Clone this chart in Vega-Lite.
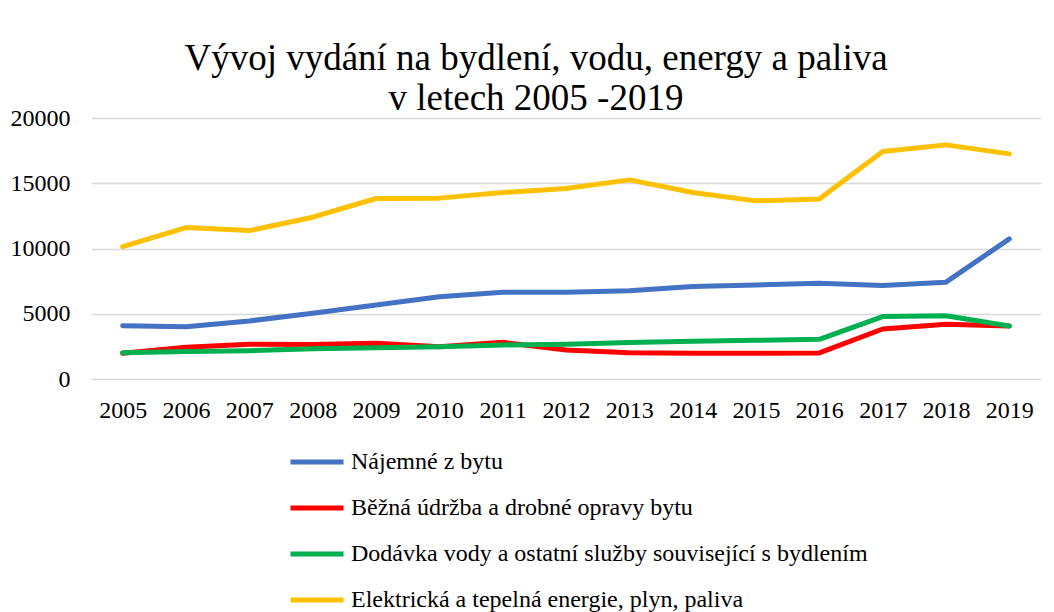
{
  "$schema": "https://vega.github.io/schema/vega-lite/v6.json",
  "width": 950,
  "height": 261,
  "padding": {"left": 10, "top": 40, "right": 5, "bottom": 5},
  "background": "white",
  "title": {
    "text": ["Vývoj vydání na bydlení, vodu, energy a paliva", "v letech 2005 -2019"],
    "font": "Liberation Serif",
    "fontSize": 37,
    "fontWeight": "normal",
    "color": "#000000",
    "anchor": "middle",
    "frame": "group",
    "dx": -30,
    "lineHeight": 40,
    "offset": -12
  },
  "data": {
    "values": [
      {"rok": "2005", "s": "Nájemné z bytu", "v": 4090},
      {"rok": "2006", "s": "Nájemné z bytu", "v": 4010},
      {"rok": "2007", "s": "Nájemné z bytu", "v": 4450},
      {"rok": "2008", "s": "Nájemné z bytu", "v": 5040},
      {"rok": "2009", "s": "Nájemné z bytu", "v": 5670},
      {"rok": "2010", "s": "Nájemné z bytu", "v": 6310},
      {"rok": "2011", "s": "Nájemné z bytu", "v": 6650},
      {"rok": "2012", "s": "Nájemné z bytu", "v": 6650},
      {"rok": "2013", "s": "Nájemné z bytu", "v": 6770},
      {"rok": "2014", "s": "Nájemné z bytu", "v": 7080},
      {"rok": "2015", "s": "Nájemné z bytu", "v": 7210},
      {"rok": "2016", "s": "Nájemné z bytu", "v": 7340},
      {"rok": "2017", "s": "Nájemné z bytu", "v": 7160},
      {"rok": "2018", "s": "Nájemné z bytu", "v": 7420},
      {"rok": "2019", "s": "Nájemné z bytu", "v": 10740},
      {"rok": "2005", "s": "Běžná údržba a drobné opravy bytu", "v": 1970},
      {"rok": "2006", "s": "Běžná údržba a drobné opravy bytu", "v": 2430},
      {"rok": "2007", "s": "Běžná údržba a drobné opravy bytu", "v": 2660},
      {"rok": "2008", "s": "Běžná údržba a drobné opravy bytu", "v": 2650},
      {"rok": "2009", "s": "Běžná údržba a drobné opravy bytu", "v": 2740},
      {"rok": "2010", "s": "Běžná údržba a drobné opravy bytu", "v": 2480},
      {"rok": "2011", "s": "Běžná údržba a drobné opravy bytu", "v": 2810},
      {"rok": "2012", "s": "Běžná údržba a drobné opravy bytu", "v": 2220},
      {"rok": "2013", "s": "Běžná údržba a drobné opravy bytu", "v": 2020},
      {"rok": "2014", "s": "Běžná údržba a drobné opravy bytu", "v": 1970},
      {"rok": "2015", "s": "Běžná údržba a drobné opravy bytu", "v": 1970},
      {"rok": "2016", "s": "Běžná údržba a drobné opravy bytu", "v": 2000},
      {"rok": "2017", "s": "Běžná údržba a drobné opravy bytu", "v": 3830},
      {"rok": "2018", "s": "Běžná údržba a drobné opravy bytu", "v": 4190},
      {"rok": "2019", "s": "Běžná údržba a drobné opravy bytu", "v": 4060},
      {"rok": "2005", "s": "Dodávka vody a ostatní služby související s bydlením", "v": 2020},
      {"rok": "2006", "s": "Dodávka vody a ostatní služby související s bydlením", "v": 2100},
      {"rok": "2007", "s": "Dodávka vody a ostatní služby související s bydlením", "v": 2170},
      {"rok": "2008", "s": "Dodávka vody a ostatní služby související s bydlením", "v": 2320},
      {"rok": "2009", "s": "Dodávka vody a ostatní služby související s bydlením", "v": 2400},
      {"rok": "2010", "s": "Dodávka vody a ostatní služby související s bydlením", "v": 2480},
      {"rok": "2011", "s": "Dodávka vody a ostatní služby související s bydlením", "v": 2610},
      {"rok": "2012", "s": "Dodávka vody a ostatní služby související s bydlením", "v": 2660},
      {"rok": "2013", "s": "Dodávka vody a ostatní služby související s bydlením", "v": 2790},
      {"rok": "2014", "s": "Dodávka vody a ostatní služby související s bydlením", "v": 2890},
      {"rok": "2015", "s": "Dodávka vody a ostatní služby související s bydlením", "v": 2970},
      {"rok": "2016", "s": "Dodávka vody a ostatní služby související s bydlením", "v": 3040},
      {"rok": "2017", "s": "Dodávka vody a ostatní služby související s bydlením", "v": 4780},
      {"rok": "2018", "s": "Dodávka vody a ostatní služby související s bydlením", "v": 4850},
      {"rok": "2019", "s": "Dodávka vody a ostatní služby související s bydlením", "v": 4060},
      {"rok": "2005", "s": "Elektrická a tepelná energie, plyn, paliva", "v": 10150},
      {"rok": "2006", "s": "Elektrická a tepelná energie, plyn, paliva", "v": 11600},
      {"rok": "2007", "s": "Elektrická a tepelná energie, plyn, paliva", "v": 11370},
      {"rok": "2008", "s": "Elektrická a tepelná energie, plyn, paliva", "v": 12400},
      {"rok": "2009", "s": "Elektrická a tepelná energie, plyn, paliva", "v": 13830},
      {"rok": "2010", "s": "Elektrická a tepelná energie, plyn, paliva", "v": 13860},
      {"rok": "2011", "s": "Elektrická a tepelná energie, plyn, paliva", "v": 14290},
      {"rok": "2012", "s": "Elektrická a tepelná energie, plyn, paliva", "v": 14600},
      {"rok": "2013", "s": "Elektrická a tepelná energie, plyn, paliva", "v": 15260},
      {"rok": "2014", "s": "Elektrická a tepelná energie, plyn, paliva", "v": 14290},
      {"rok": "2015", "s": "Elektrická a tepelná energie, plyn, paliva", "v": 13650},
      {"rok": "2016", "s": "Elektrická a tepelná energie, plyn, paliva", "v": 13800},
      {"rok": "2017", "s": "Elektrická a tepelná energie, plyn, paliva", "v": 17430},
      {"rok": "2018", "s": "Elektrická a tepelná energie, plyn, paliva", "v": 17940},
      {"rok": "2019", "s": "Elektrická a tepelná energie, plyn, paliva", "v": 17250}
    ]
  },
  "mark": {"type": "line", "strokeWidth": 5, "strokeCap": "round", "strokeJoin": "round"},
  "encoding": {
    "x": {
      "field": "rok",
      "type": "ordinal",
      "scale": {"type": "point", "padding": 0.5},
      "axis": {
        "title": null,
        "labelAngle": 0,
        "labelFont": "Liberation Serif",
        "labelFontSize": 24,
        "labelColor": "#000000",
        "labelPadding": 19,
        "domain": false,
        "ticks": false,
        "grid": false
      }
    },
    "y": {
      "field": "v",
      "type": "quantitative",
      "scale": {"domain": [0, 20000], "nice": false},
      "axis": {
        "title": null,
        "values": [0, 5000, 10000, 15000, 20000],
        "format": "d",
        "labelFont": "Liberation Serif",
        "labelFontSize": 24,
        "labelColor": "#000000",
        "labelPadding": 21,
        "domain": false,
        "ticks": false,
        "grid": true,
        "gridColor": "#D9D9D9",
        "gridWidth": 1.5
      }
    },
    "color": {
      "field": "s",
      "type": "nominal",
      "sort": ["Nájemné z bytu", "Běžná údržba a drobné opravy bytu", "Dodávka vody a ostatní služby související s bydlením", "Elektrická a tepelná energie, plyn, paliva"],
      "scale": {
        "domain": ["Nájemné z bytu", "Běžná údržba a drobné opravy bytu", "Dodávka vody a ostatní služby související s bydlením", "Elektrická a tepelná energie, plyn, paliva"],
        "range": ["#4472C4", "#FF0000", "#00B050", "#FFC000"]
      },
      "legend": {
        "title": null,
        "orient": "none",
        "legendX": 197,
        "legendY": 315,
        "direction": "vertical",
        "symbolType": "stroke",
        "symbolSize": 2809,
        "symbolStrokeWidth": 5,
        "labelFont": "Liberation Serif",
        "labelFontSize": 24,
        "labelColor": "#000000",
        "labelOffset": 5,
        "labelLimit": 800,
        "rowPadding": 5
      }
    }
  },
  "config": {"view": {"stroke": null}}
}
